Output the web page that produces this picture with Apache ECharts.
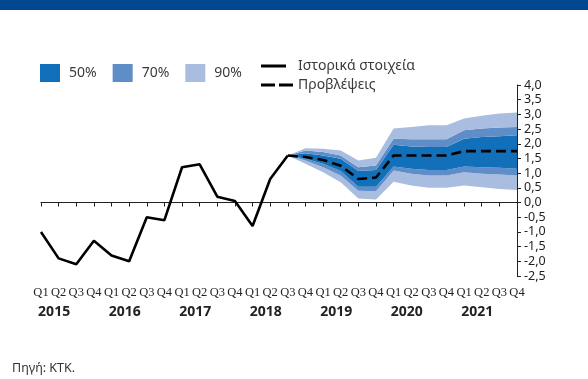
<!DOCTYPE html>
<html>
<head>
<meta charset="utf-8">
<script src="https://cdn.jsdelivr.net/npm/echarts@6/dist/echarts.min.js"></script>
<style>
  html, body { margin: 0; padding: 0; background: #fff; }
  #chart { width: 588px; height: 379px; }
</style>
</head>
<body>
<div id="chart"></div>
<script>
// Quarterly categories 2015 Q1 – 2021 Q4
const years = ['2015', '2016', '2017', '2018', '2019', '2020', '2021'];
const quarterLabels = ['Q1', 'Q2', 'Q3', 'Q4'];

// Historical data, 2015 Q1 – 2018 Q3
const historical = [-1.0, -1.9, -2.1, -1.3, -1.8, -2.0, -0.5, -0.6, 1.2, 1.3, 0.2, 0.05, -0.8, 0.8, 1.6];

// Projections and uncertainty bands, 2018 Q3 – 2021 Q4
const forecast = [1.6, 1.55, 1.45, 1.25, 0.8, 0.85, 1.6, 1.6, 1.6, 1.6, 1.75, 1.75, 1.75, 1.75];
const low90  = [1.6, 1.32, 1.03, 0.69, 0.14, 0.10, 0.71, 0.58, 0.50, 0.50, 0.58, 0.52, 0.46, 0.43];
const low70  = [1.6, 1.43, 1.20, 0.92, 0.40, 0.38, 1.09, 0.98, 0.92, 0.92, 1.03, 0.98, 0.95, 0.92];
const low50  = [1.6, 1.49, 1.32, 1.07, 0.54, 0.54, 1.23, 1.15, 1.11, 1.11, 1.23, 1.20, 1.18, 1.15];
const high50 = [1.6, 1.68, 1.60, 1.49, 1.07, 1.11, 1.97, 1.91, 1.89, 1.89, 2.17, 2.23, 2.26, 2.29];
const high70 = [1.6, 1.77, 1.72, 1.60, 1.20, 1.26, 2.17, 2.15, 2.15, 2.15, 2.46, 2.52, 2.55, 2.57];
const high90 = [1.6, 1.85, 1.83, 1.77, 1.43, 1.52, 2.52, 2.57, 2.63, 2.63, 2.86, 2.95, 3.03, 3.06];

// y-axis ticks
const yMin = -2.5, yMax = 4.0, yStep = 0.5;

const categories = [];
years.forEach(y => quarterLabels.forEach(q => categories.push(y + ' ' + q)));
const nCat = categories.length;
const fcStart = historical.length - 1;

const pad = arr => new Array(fcStart).fill('-').concat(arr);
const diff = (a, b) => a.map((v, i) => +(v - b[i]).toFixed(3));

const histSeries = historical.concat(new Array(nCat - historical.length).fill('-'));

const C50 = '#1170b9', C70 = '#5f8dc7', C90 = '#a9bde0';

const band = (name, data, color) => ({
  name, type: 'line', stack: 'fan', data: pad(data),
  symbol: 'none', lineStyle: { width: 0 }, itemStyle: { color },
  areaStyle: { color, opacity: 1 }, z: 1, silent: true
});

// legend glyphs: solid and dashed line samples
const solidIcon = 'path://M0,0H25V3H0Z M32,0L32,3Z';
const dashedIcon = 'path://M0,0H14V3H0Z M18,0H32V3H18Z';

const chart = echarts.init(document.getElementById('chart'), null, { renderer: 'canvas' });

const legendText = { fontFamily: 'Noto Sans', fontSize: 14, color: '#3a3a3a' };

chart.setOption({
  animation: false,
  backgroundColor: '#fff',
  textStyle: { fontFamily: 'Noto Sans' },
  graphic: [
    { type: 'rect', left: 0, top: 0, shape: { width: 588, height: 10 }, style: { fill: '#004990' } },
    { type: 'text', left: 12, top: 362, style: { text: 'Πηγή: ΚΤΚ.', font: '12.5px "Noto Sans"', fill: '#333' } }
  ],
  legend: [
    {
      data: ['50%', '70%', '90%'],
      left: 40, top: 64, padding: 0, orient: 'horizontal',
      icon: 'rect', itemWidth: 20, itemHeight: 18, itemGap: 16,
      textStyle: Object.assign({ padding: [0, 0, 0, 4] }, legendText), selectedMode: false
    },
    {
      data: [
        { name: 'Ιστορικά στοιχεία', icon: solidIcon },
        { name: 'Προβλέψεις', icon: dashedIcon }
      ],
      left: 261, top: 59, padding: 0, orient: 'vertical',
      itemWidth: 32, itemHeight: 3, itemGap: 5,
      textStyle: legendText, selectedMode: false
    }
  ],
  grid: { left: 41, right: 71, top: 85, bottom: 103 },
  xAxis: [
    {
      type: 'category', data: categories, boundaryGap: false,
      axisLine: { lineStyle: { color: '#222', width: 1 } },
      axisTick: { show: true, length: 4, inside: false, lineStyle: { color: '#222' } },
      axisLabel: {
        interval: 0, margin: 10, color: '#222',
        fontFamily: 'Liberation Sans Narrow', fontSize: 12.5,
        formatter: v => v.split(' ')[1]
      },
      splitLine: { show: false }
    },
    {
      type: 'category', data: categories, boundaryGap: false, position: 'bottom',
      axisLine: { show: false }, axisTick: { show: false },
      axisLabel: {
        interval: (i) => i % 4 === 1, margin: 29, color: '#222',
        fontFamily: 'Noto Sans', fontSize: 14, fontWeight: 'bold',
        padding: [0, 9, 0, 0],
        formatter: v => v.split(' ')[0]
      },
      splitLine: { show: false }
    }
  ],
  yAxis: {
    type: 'value', position: 'right', min: yMin, max: yMax, interval: yStep,
    axisLine: { show: true, lineStyle: { color: '#222' } },
    axisTick: { show: true, length: 4, lineStyle: { color: '#222' } },
    axisLabel: {
      margin: 7, color: '#222', fontFamily: 'Noto Sans', fontSize: 12.5,
      formatter: v => v.toFixed(1).replace('.', ',')
    },
    splitLine: { show: false }
  },
  series: [
    { name: 'base', type: 'line', stack: 'fan', data: pad(low90), symbol: 'none', lineStyle: { width: 0 }, silent: true },
    band('90%', diff(low70, low90), C90),
    band('70%', diff(low50, low70), C70),
    band('50%', diff(high50, low50), C50),
    band('70%', diff(high70, high50), C70),
    band('90%', diff(high90, high70), C90),
    {
      name: 'Ιστορικά στοιχεία', type: 'line', data: histSeries, symbol: 'none',
      lineStyle: { color: '#000', width: 2.6 }, itemStyle: { color: '#000' }, z: 5
    },
    {
      name: 'Προβλέψεις', type: 'line', data: pad(forecast), symbol: 'none',
      lineStyle: { color: '#000', width: 2.6, type: [10, 5] }, itemStyle: { color: '#000' }, z: 5
    }
  ]
});
</script>
</body>
</html>
